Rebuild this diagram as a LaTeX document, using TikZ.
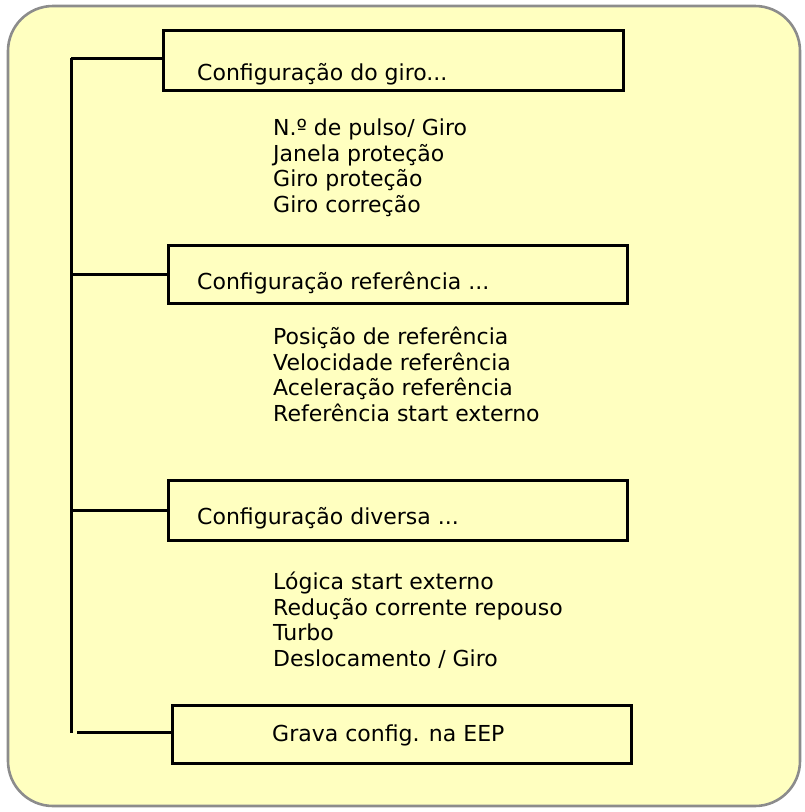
\documentclass[tikz,border=0pt]{standalone}
\usepackage{fontspec}
\setmainfont{DejaVu Sans}
\definecolor{bgyellow}{HTML}{FFFFC0}
\definecolor{framegray}{HTML}{8C8C8C}
\tikzset{
  panel/.style={draw=framegray, line width=2.6pt, fill=bgyellow, rounded corners=45pt},
  menubox/.style={draw=black, line width=3pt, fill=bgyellow, rectangle, inner sep=0pt},
  conn/.style={draw=black, line width=3pt},
  txt/.style={anchor=base west, inner sep=0pt, font=\fontsize{22}{26}\selectfont, text=black}
}
\begin{document}
\begin{tikzpicture}[x=1pt,y=-1pt]
\useasboundingbox (0,0) rectangle (805,812);
\path[panel] (8,6) rectangle (800,806);

% boxes
\node[menubox, minimum width=460pt, minimum height=60pt] (b1) at (393,60) {};
\node[menubox, minimum width=459pt, minimum height=58pt] (b2) at (397.5,274) {};
\node[menubox, minimum width=459pt, minimum height=60pt] (b3) at (397.5,510) {};
\node[menubox, minimum width=459pt, minimum height=58pt] (b4) at (401.5,734) {};

% trunk and connectors
\coordinate (top) at (71,58);
\coordinate (bot) at (71,733);
\coordinate (c4) at (77,732);
\draw[conn] (top) -- (bot);
\draw[conn] (top) -- (b1.west |- top);
\draw[conn] (b2.west -| top) -- (b2.west);
\draw[conn] (b3.west -| top) -- (b3.west);
\draw[conn] (c4) -- (b4.west |- c4);

% box labels
\node[txt] (t1) at (197,80) {Configuração do giro...};
\node[txt] (t2) at (197,289) {Configuração referência ...};
\node[txt] (t3) at (197,524) {Configuração diversa ...};
\node[txt] (t4) at (272,741) {Grava config. na EEP};

% list 1
\node[txt] (l11) at (273,135.5) {N.º de pulso/ Giro};
\node[txt] (l12) at (273,161.2) {Janela proteção};
\node[txt] (l13) at (273,186.9) {Giro proteção};
\node[txt] (l14) at (273,212.6) {Giro correção};

% list 2
\node[txt] (l21) at (273,344.5) {Posição de referência};
\node[txt] (l22) at (273,370.2) {Velocidade referência};
\node[txt] (l23) at (273,395.9) {Aceleração referência};
\node[txt] (l24) at (273,421.6) {Referência start externo};

% list 3
\node[txt] (l31) at (273,589.5) {Lógica start externo};
\node[txt] (l32) at (273,615.2) {Redução corrente repouso};
\node[txt] (l33) at (273,640.9) {Turbo};
\node[txt] (l34) at (273,666.6) {Deslocamento / Giro};
\end{tikzpicture}
\end{document}
